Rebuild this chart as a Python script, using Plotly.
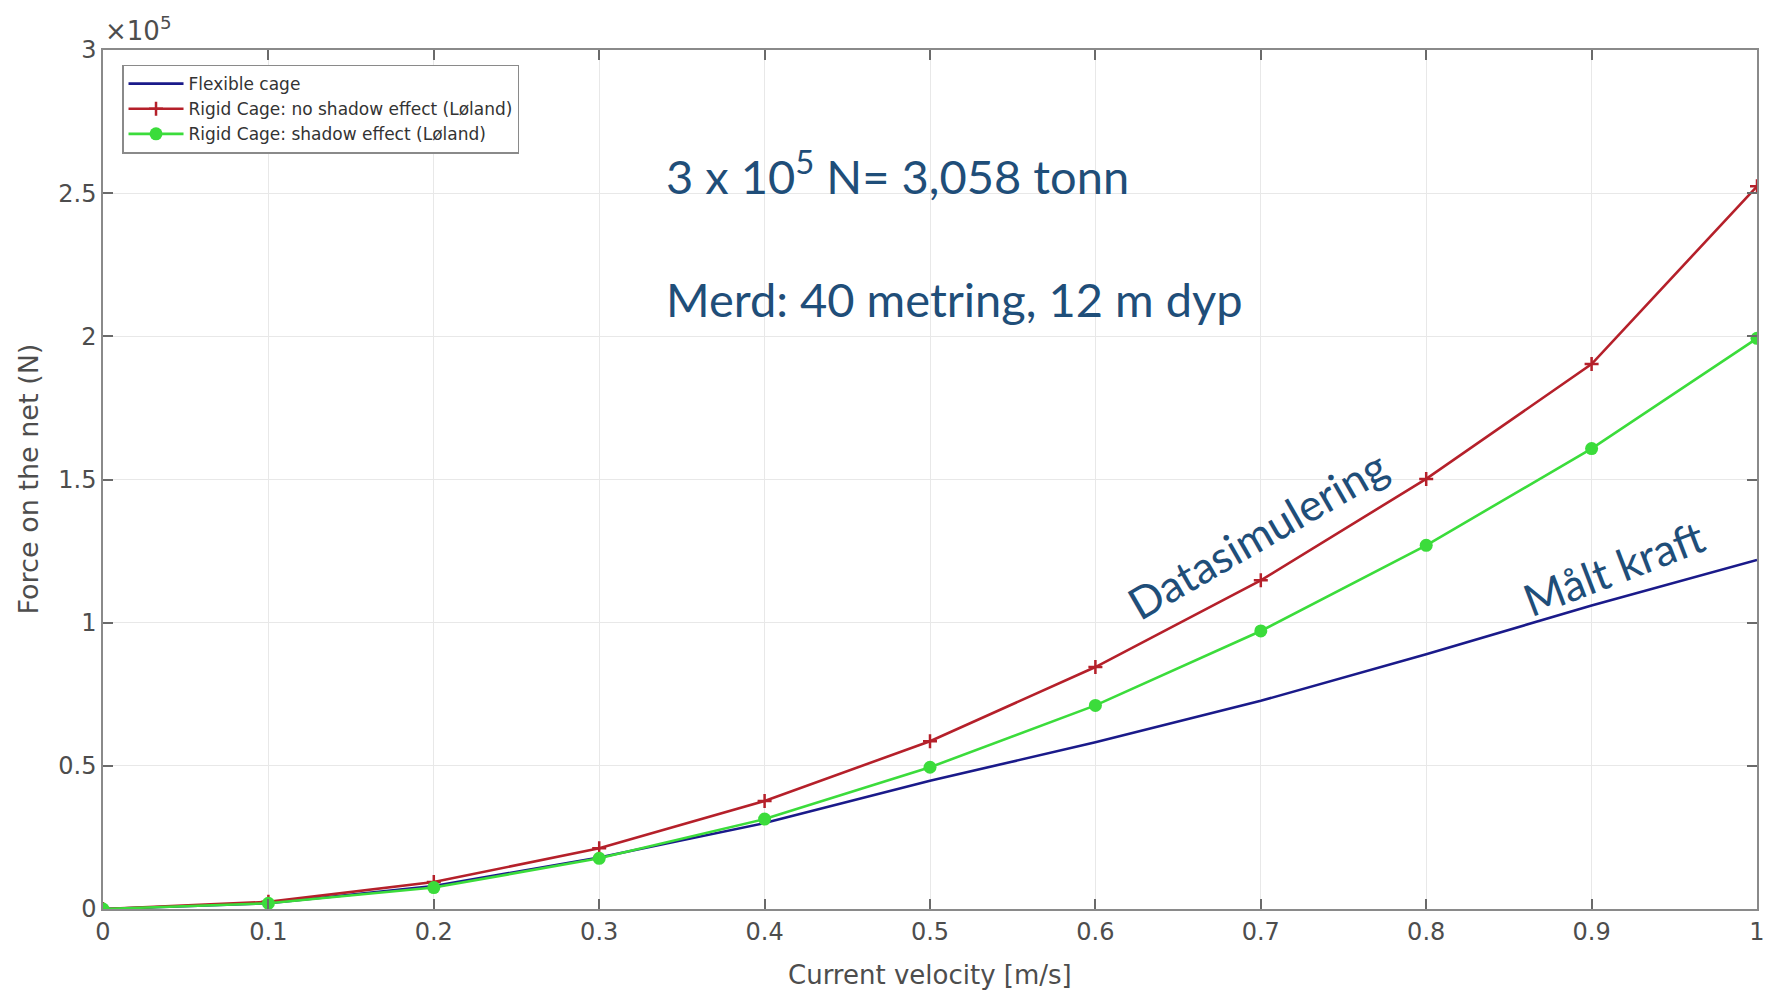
import plotly.graph_objects as go

velocity = [0, 0.1, 0.2, 0.3, 0.4, 0.5, 0.6, 0.7, 0.8, 0.9, 1.0]
flexible_cage = [0, 2000, 8000, 18000, 30000, 44800, 58200, 72700, 89000, 106000, 121900]
rigid_no_shadow = [0, 2500, 9400, 21200, 37700, 58600, 84500, 114800, 150200, 190300, 252400]
rigid_shadow = [0, 2000, 7500, 17700, 31400, 49500, 71100, 97100, 127000, 160800, 199300]

x_ticks = [0, 0.1, 0.2, 0.3, 0.4, 0.5, 0.6, 0.7, 0.8, 0.9, 1.0]
x_tick_labels = ["0", "0.1", "0.2", "0.3", "0.4", "0.5", "0.6", "0.7", "0.8", "0.9", "1"]
y_ticks = [0, 50000, 100000, 150000, 200000, 250000, 300000]
y_tick_labels = ["0", "0.5", "1", "1.5", "2", "2.5", "3"]

names = ["Flexible cage",
         "Rigid Cage: no shadow effect (Løland)",
         "Rigid Cage: shadow effect (Løland)"]

W, H = 1766, 994
ml, mr, mt, mb = 103, 9, 50, 85
axis_font = "DejaVu Sans, Liberation Sans, Arial"
tick_font = dict(family=axis_font, size=24, color="#4d4d4d")
note_color = "#1f4e79"
note_font = "Lato, Open Sans, sans-serif"

fig = go.Figure()
fig.add_trace(go.Scatter(x=velocity, y=flexible_cage, mode="lines", name=names[0],
                         line=dict(color="#1a1a8a", width=2.6)))
fig.add_trace(go.Scatter(x=velocity, y=rigid_no_shadow, mode="lines+markers", name=names[1],
                         line=dict(color="#b5202a", width=2.6),
                         marker=dict(symbol="cross-thin", size=10, color="#b5202a",
                                     line=dict(color="#b5202a", width=2.5))))
fig.add_trace(go.Scatter(x=velocity, y=rigid_shadow, mode="lines+markers", name=names[2],
                         line=dict(color="#3bdc3b", width=2.6),
                         marker=dict(symbol="circle", size=13, color="#3bdc3b")))

axis_common = dict(showline=True, linecolor="#8a8a8a", linewidth=1.5, mirror="ticks",
                   ticks="inside", ticklen=10, tickcolor="#6a6a6a", tickwidth=1.5,
                   showgrid=True, gridcolor="#e8e8e8", gridwidth=1, zeroline=False,
                   tickfont=tick_font, ticklabeloverflow="allow", automargin=False)

fig.update_xaxes(range=[0, 1], tickvals=x_ticks, ticktext=x_tick_labels, **axis_common)
fig.update_yaxes(range=[0, 300000], tickvals=y_ticks, ticktext=y_tick_labels, **axis_common)

fig.update_layout(
    width=W, height=H,
    margin=dict(l=ml, r=mr, t=mt, b=mb, autoexpand=False),
    paper_bgcolor="white", plot_bgcolor="white",
    showlegend=True,
    legend=dict(x=0.0115, y=0.983, xanchor="left", yanchor="top",
                bgcolor="white", bordercolor="#8a8a8a", borderwidth=1.5,
                font=dict(family=axis_font, size=17, color="#333333"),
                tracegroupgap=0, itemwidth=55),
    annotations=[
        dict(text="×10<sup>5</sup>", xref="paper", yref="paper", x=0.0, y=1.0,
             xanchor="left", yanchor="bottom", yshift=2, showarrow=False,
             font=dict(family=axis_font, size=26, color="#4d4d4d")),
        dict(text="Current velocity [m/s]", xref="paper", yref="paper", x=0.5, y=0,
             xanchor="center", yanchor="middle", yshift=-66, showarrow=False,
             font=dict(family=axis_font, size=26, color="#4d4d4d")),
        dict(text="Force on the net (N)", xref="paper", yref="paper", x=0, y=0.5,
             xanchor="center", yanchor="middle", xshift=-75, textangle=-90, showarrow=False,
             font=dict(family=axis_font, size=27, color="#4d4d4d")),
        dict(text="3 x 10<sup>5</sup> N= 3,058 tonn", xref="x", yref="y",
             x=0.339, y=257000, xanchor="left", yanchor="middle", showarrow=False,
             font=dict(family=note_font, size=47, color=note_color)),
        dict(text="Merd: 40 metring, 12 m dyp", xref="x", yref="y",
             x=0.339, y=213000, xanchor="left", yanchor="middle", showarrow=False,
             font=dict(family=note_font, size=47, color=note_color)),
        dict(text="Datasimulering", xref="x", yref="y",
             x=0.698, y=131000, xanchor="center", yanchor="middle", textangle=-30,
             showarrow=False, font=dict(family=note_font, size=44, color=note_color)),
        dict(text="Målt kraft", xref="x", yref="y",
             x=0.913, y=119000, xanchor="center", yanchor="middle", textangle=-21,
             showarrow=False, font=dict(family=note_font, size=44, color=note_color)),
    ],
)

fig.write_html("out.html")
